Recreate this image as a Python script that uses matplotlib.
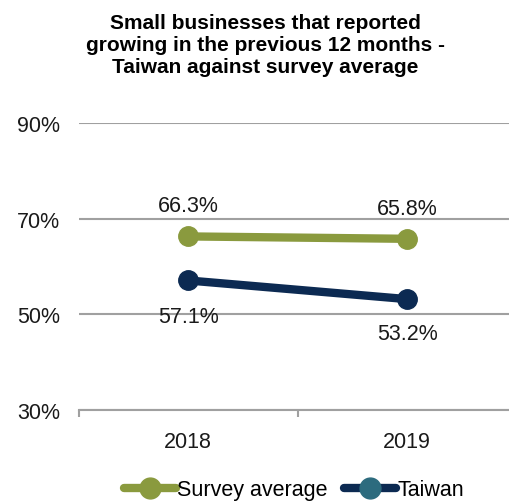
import matplotlib.pyplot as plt
from matplotlib.lines import Line2D

plt.rcParams['font.family'] = ['Liberation Sans', 'DejaVu Sans']

years = ['2018', '2019']
survey_avg = [66.3, 65.8]
taiwan = [57.1, 53.2]
y_ticks = [30, 50, 70, 90]

green = '#8A9A3E'
navy = '#0C2A52'
teal = '#2C6B7E'
grey = '#A0A0A0'
fs = 15.5

fig = plt.figure(figsize=(5.10, 5.02), dpi=100)
ax = fig.add_axes([0.154, 0.181, 0.846, 0.572])

x = list(range(len(years)))
ax.plot(x, survey_avg, color=green, lw=6, marker='o', ms=14, solid_capstyle='round', zorder=3)
ax.plot(x, taiwan, color=navy, lw=6, marker='o', ms=14, solid_capstyle='round', zorder=3)

for i, v in enumerate(survey_avg):
    ax.annotate('%.1f%%' % v, (i, v), xytext=(0, 22), textcoords='offset points',
                ha='center', va='center', fontsize=fs, color='#1a1a1a')
for i, v in enumerate(taiwan):
    ax.annotate('%.1f%%' % v, (i, v), xytext=(0, -26 + 1 * i), textcoords='offset points',
                ha='center', va='center', fontsize=fs, color='#1a1a1a')

ax.set_ylim(30, 90)
ax.set_yticks(y_ticks)
ax.set_yticklabels(['%d%%' % t for t in y_ticks], fontsize=fs, color='#1a1a1a')
ax.yaxis.grid(True, color=grey, lw=1.5)
ax.set_axisbelow(True)
ax.tick_params(axis='y', length=0, pad=13)

ax.set_xlim(-0.5, 1.47)
ax.set_xticks([-0.5, 0.5])
ax.set_xticklabels([])
ax.set_xticks(x, minor=True)
ax.set_xticklabels(years, minor=True, fontsize=fs, color='#1a1a1a')
ax.tick_params(axis='x', which='major', length=5, width=1.5, color=grey, direction='out')
ax.tick_params(axis='x', which='minor', length=0, pad=15)

for side in ['top', 'right', 'left']:
    ax.spines[side].set_visible(False)
ax.spines['bottom'].set_color(grey)
ax.spines['bottom'].set_linewidth(1.5)

fig.text(0.52, 0.91, 'Small businesses that reported\ngrowing in the previous 12 months -\nTaiwan against survey average',
         ha='center', va='center', fontsize=15, fontweight='bold', linespacing=1.2)

handles = [Line2D([], [], color=green, lw=6, marker='o', ms=15, solid_capstyle='round'),
           Line2D([], [], color=navy, lw=6, marker='o', ms=15, mfc=teal, mec=teal, solid_capstyle='round')]
fig.legend(handles, ['Survey average', 'Taiwan'], loc='center', bbox_to_anchor=(0.576, 0.022),
           ncol=2, frameon=False, fontsize=fs, handlelength=2.4, handletextpad=0.05, columnspacing=0.8)

fig.savefig('out.png', dpi=100)
